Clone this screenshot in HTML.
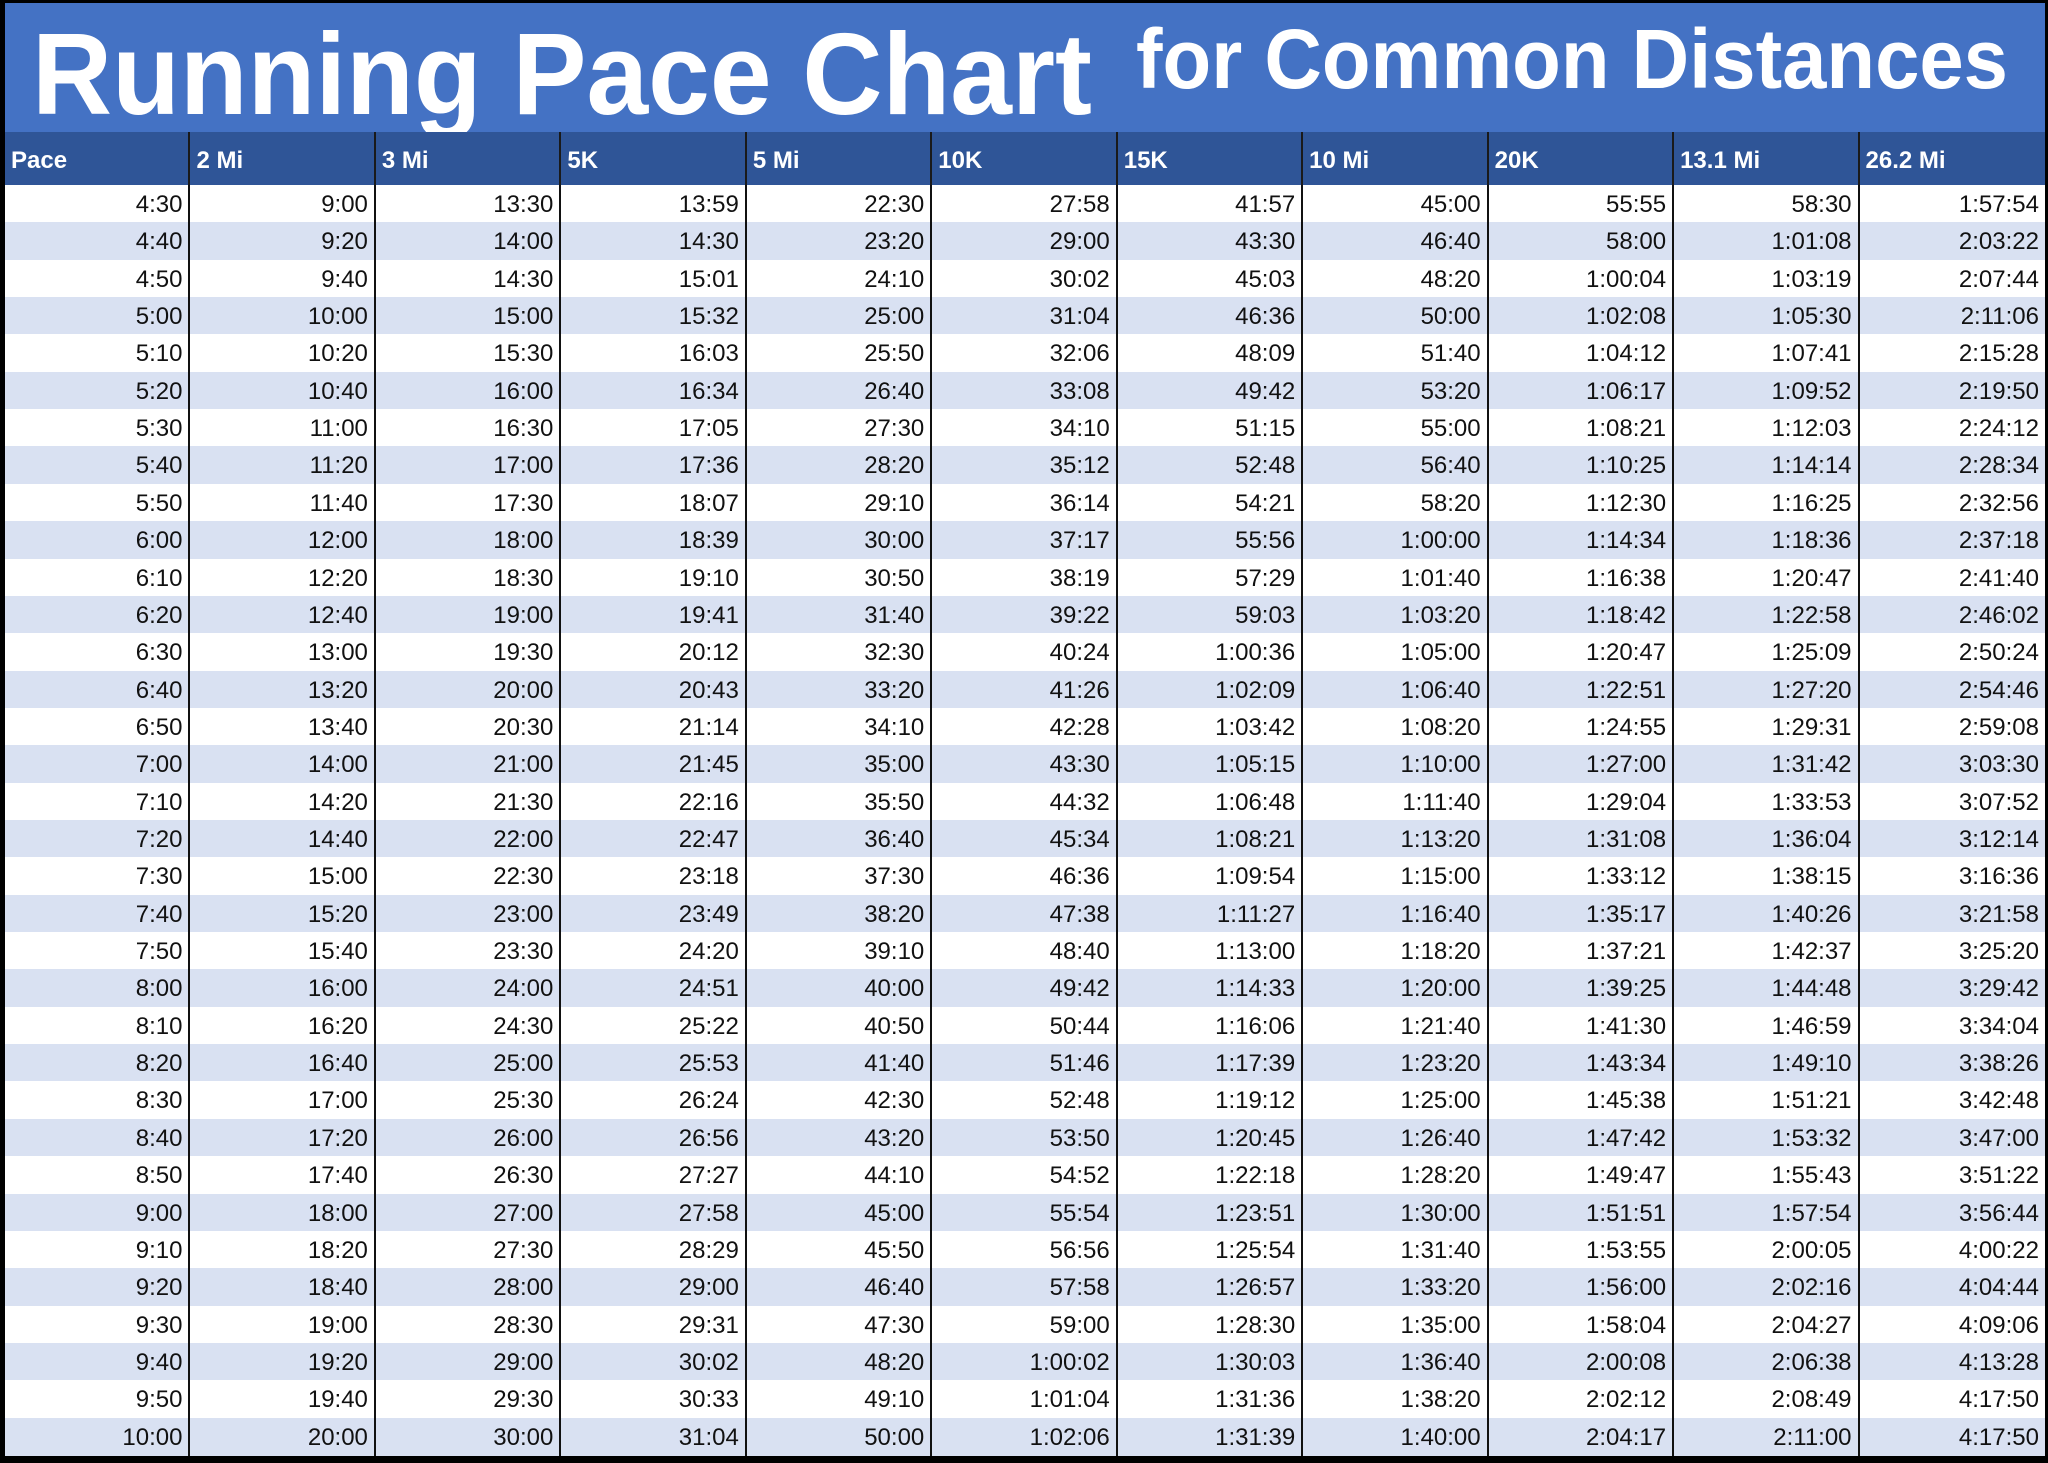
<!DOCTYPE html>
<html><head><meta charset="utf-8">
<style>
html,body{margin:0;padding:0;background:#000;}
#page{position:relative;width:2048px;height:1463px;background:#000;overflow:hidden;font-family:"Liberation Sans",sans-serif;}
#title{position:absolute;left:5px;top:3px;width:2040px;height:129px;background:#4472C4;}
.cell{position:absolute;box-sizing:border-box;height:38px;font-size:24px;line-height:40px;text-align:right;padding-right:6px;color:#111;border-right:2px solid #111;}
.hcell{position:absolute;box-sizing:border-box;top:132px;height:53px;background:#2F5597;color:#fff;font-weight:bold;font-size:24px;line-height:58px;padding-left:6px;border-right:2px solid #1a1a1a;}
</style></head><body>
<div id="page">
<div id="title">
<svg width="2040" height="129">
<text x="27" y="111" fill="#fff" font-family="Liberation Sans, sans-serif" font-weight="bold" font-size="116" textLength="1060" lengthAdjust="spacingAndGlyphs">Running Pace Chart</text>
<text x="1131" y="85" fill="#fff" font-family="Liberation Sans, sans-serif" font-weight="bold" font-size="84" textLength="872" lengthAdjust="spacingAndGlyphs">for Common Distances</text>
</svg>
</div>
<div id="tbl"></div>
</div>
<script>
const headers=["Pace","2 Mi","3 Mi","5K","5 Mi","10K","15K","10 Mi","20K","13.1 Mi","26.2 Mi"];
const pace=["4:30","4:40","4:50","5:00","5:10","5:20","5:30","5:40","5:50","6:00","6:10","6:20","6:30","6:40","6:50","7:00","7:10","7:20","7:30","7:40","7:50","8:00","8:10","8:20","8:30","8:40","8:50","9:00","9:10","9:20","9:30","9:40","9:50","10:00"];
const mi2=["9:00","9:20","9:40","10:00","10:20","10:40","11:00","11:20","11:40","12:00","12:20","12:40","13:00","13:20","13:40","14:00","14:20","14:40","15:00","15:20","15:40","16:00","16:20","16:40","17:00","17:20","17:40","18:00","18:20","18:40","19:00","19:20","19:40","20:00"];
const mi3=["13:30","14:00","14:30","15:00","15:30","16:00","16:30","17:00","17:30","18:00","18:30","19:00","19:30","20:00","20:30","21:00","21:30","22:00","22:30","23:00","23:30","24:00","24:30","25:00","25:30","26:00","26:30","27:00","27:30","28:00","28:30","29:00","29:30","30:00"];
const k5=["13:59","14:30","15:01","15:32","16:03","16:34","17:05","17:36","18:07","18:39","19:10","19:41","20:12","20:43","21:14","21:45","22:16","22:47","23:18","23:49","24:20","24:51","25:22","25:53","26:24","26:56","27:27","27:58","28:29","29:00","29:31","30:02","30:33","31:04"];
const mi5=["22:30","23:20","24:10","25:00","25:50","26:40","27:30","28:20","29:10","30:00","30:50","31:40","32:30","33:20","34:10","35:00","35:50","36:40","37:30","38:20","39:10","40:00","40:50","41:40","42:30","43:20","44:10","45:00","45:50","46:40","47:30","48:20","49:10","50:00"];
const k10=["27:58","29:00","30:02","31:04","32:06","33:08","34:10","35:12","36:14","37:17","38:19","39:22","40:24","41:26","42:28","43:30","44:32","45:34","46:36","47:38","48:40","49:42","50:44","51:46","52:48","53:50","54:52","55:54","56:56","57:58","59:00","1:00:02","1:01:04","1:02:06"];
const k15=["41:57","43:30","45:03","46:36","48:09","49:42","51:15","52:48","54:21","55:56","57:29","59:03","1:00:36","1:02:09","1:03:42","1:05:15","1:06:48","1:08:21","1:09:54","1:11:27","1:13:00","1:14:33","1:16:06","1:17:39","1:19:12","1:20:45","1:22:18","1:23:51","1:25:54","1:26:57","1:28:30","1:30:03","1:31:36","1:31:39"];
const mi10=["45:00","46:40","48:20","50:00","51:40","53:20","55:00","56:40","58:20","1:00:00","1:01:40","1:03:20","1:05:00","1:06:40","1:08:20","1:10:00","1:11:40","1:13:20","1:15:00","1:16:40","1:18:20","1:20:00","1:21:40","1:23:20","1:25:00","1:26:40","1:28:20","1:30:00","1:31:40","1:33:20","1:35:00","1:36:40","1:38:20","1:40:00"];
const k20=["55:55","58:00","1:00:04","1:02:08","1:04:12","1:06:17","1:08:21","1:10:25","1:12:30","1:14:34","1:16:38","1:18:42","1:20:47","1:22:51","1:24:55","1:27:00","1:29:04","1:31:08","1:33:12","1:35:17","1:37:21","1:39:25","1:41:30","1:43:34","1:45:38","1:47:42","1:49:47","1:51:51","1:53:55","1:56:00","1:58:04","2:00:08","2:02:12","2:04:17"];
const half=["58:30","1:01:08","1:03:19","1:05:30","1:07:41","1:09:52","1:12:03","1:14:14","1:16:25","1:18:36","1:20:47","1:22:58","1:25:09","1:27:20","1:29:31","1:31:42","1:33:53","1:36:04","1:38:15","1:40:26","1:42:37","1:44:48","1:46:59","1:49:10","1:51:21","1:53:32","1:55:43","1:57:54","2:00:05","2:02:16","2:04:27","2:06:38","2:08:49","2:11:00"];
const full=["1:57:54","2:03:22","2:07:44","2:11:06","2:15:28","2:19:50","2:24:12","2:28:34","2:32:56","2:37:18","2:41:40","2:46:02","2:50:24","2:54:46","2:59:08","3:03:30","3:07:52","3:12:14","3:16:36","3:21:58","3:25:20","3:29:42","3:34:04","3:38:26","3:42:48","3:47:00","3:51:22","3:56:44","4:00:22","4:04:44","4:09:06","4:13:28","4:17:50","4:17:50"];
const cols=[pace,mi2,mi3,k5,mi5,k10,k15,mi10,k20,half,full];
const tbl=document.getElementById('tbl');
const x0=5,cw=2040/11,y0=185,rh=(1455-185)/34;
headers.forEach((h,c)=>{
  const d=document.createElement('div');
  d.className='hcell';
  d.style.left=(x0+c*cw)+'px';d.style.width=cw+'px';
  if(c===10)d.style.borderRight='none';
  d.textContent=h;
  
  
  tbl.appendChild(d);
});
for(let r=0;r<pace.length;r++){
  cols.forEach((col,c)=>{
    const d=document.createElement('div');
    d.className='cell';
    d.style.left=(x0+c*cw)+'px';d.style.width=cw+'px';
    d.style.top=(y0+r*rh)+'px';d.style.height=(rh+0.6)+'px';
    d.style.background=(r%2)?'#D9E1F2':'#FFFFFF';
    if(c===10)d.style.borderRight='none';
    d.textContent=col[r];
    
    
    tbl.appendChild(d);
  });
}
</script>
</body></html>
